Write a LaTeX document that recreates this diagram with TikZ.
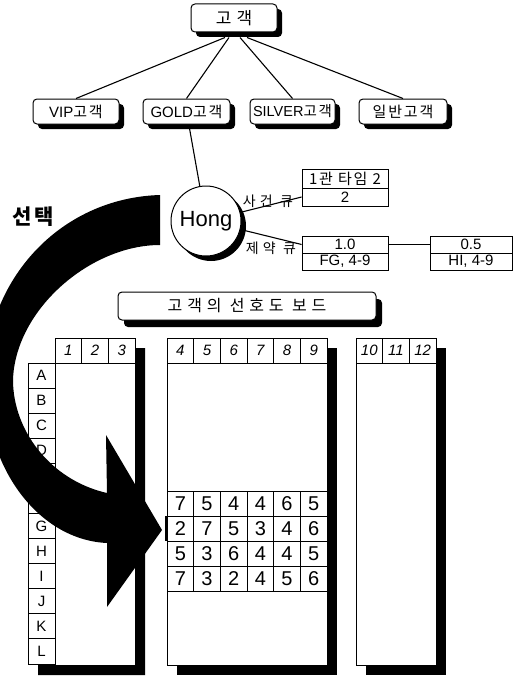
\documentclass[tikz,border=0pt]{standalone}
\usepackage{fontspec}
\setmainfont{Liberation Sans}
\newfontfamily\kr{Noto Sans CJK KR}[LetterSpace=12]
\newfontfamily\krw{Noto Sans CJK KR}[LetterSpace=30]
\usetikzlibrary{shadows}
\pgfdeclarelayer{background}
\pgfsetlayers{background,main}
\newcommand\myfs[1]{\fontsize{#1}{#1}\selectfont}
\begin{document}
\begin{tikzpicture}[x=1pt,y=-1pt,
  kbox/.style={draw, line width=1pt, rounded corners=4pt, fill=white, inner sep=0pt,
    drop shadow={shadow xshift=5pt, shadow yshift=-5pt, fill=black, opacity=1}},
  cell/.style={draw, line width=0.8pt, fill=white, inner sep=0pt},
  link/.style={line width=1.1pt},
  hcell/.style={cell, minimum width=26.67pt, minimum height=25pt, font=\myfs{15}\itshape},
  dcell/.style={cell, minimum width=26.67pt, minimum height=25pt, font=\myfs{20}},
  tshadow/.style={fill=black}]
\useasboundingbox (0,0) rectangle (525,677);
\clip (0,0) rectangle (525,677);
\begin{pgfonlayer}{background}
\fill[white] (0,0) rectangle (525,677);
\end{pgfonlayer}

% hierarchy
\node[kbox, minimum width=86pt, minimum height=28pt] (top) at (234,18) {\krw\myfs{17}고객};
\node[kbox, minimum width=86pt, minimum height=25pt] (vip) at (76,111.5) {\myfs{15}VIP{\kr\myfs{15}고객}};
\node[kbox, minimum width=87pt, minimum height=25pt] (gold) at (186.5,111.5) {\myfs{15}GOLD{\kr\myfs{15}고객}};
\node[kbox, minimum width=85pt, minimum height=25pt] (silver) at (292.5,111.5) {\myfs{14.5}SILVER{\kr\myfs{14.5}고객}};
\node[kbox, minimum width=88pt, minimum height=25pt] (gen) at (403,111.5) {\kr\myfs{15}일반고객};

\node[circle, draw, line width=1pt, fill=white, minimum size=70pt, inner sep=0pt,
  drop shadow={shadow xshift=5pt, shadow yshift=-5pt, fill=black, opacity=1}] (hong) at (206,221) {\myfs{22}Hong};

\node[cell, minimum width=86pt, minimum height=19pt] (e1) at (345,178.5) {\kr\myfs{15}1관 타임 2};
\node[cell, minimum width=86pt, minimum height=18pt] (e2) at (345,197) {\myfs{15}2};
\node[cell, minimum width=86pt, minimum height=17pt] (c1) at (345,244.5) {\myfs{15}1.0};
\node[cell, minimum width=86pt, minimum height=17pt] (c2) at (345,261.5) {\myfs{15}FG, 4-9};
\node[cell, minimum width=82pt, minimum height=17pt] (k1) at (471,244.5) {\myfs{15}0.5};
\node[cell, minimum width=82pt, minimum height=17pt] (k2) at (471,261.5) {\myfs{15}HI, 4-9};

\node (qe) at (268,201) {\krw\myfs{14}사건 큐};
\node (qc) at (271,248) {\krw\myfs{14}제약 큐};

\begin{pgfonlayer}{background}
\draw[link] ([xshift=-9pt,yshift=-5pt]top.south) -- (vip.north);
\draw[link] ([xshift=-5pt,yshift=-5pt]top.south) -- (gold.north);
\draw[link] ([xshift=6pt,yshift=-5pt]top.south) -- (silver.north);
\draw[link] ([xshift=13pt,yshift=-5pt]top.south) -- (gen.north);
\draw[link] (gold) -- (hong);
\draw[link] (hong) -- (e2.west);
\draw[link] (hong) -- (c1.west);
\draw[link] (c1.east) -- (k1.west);
\end{pgfonlayer}

% board title
\node[draw, line width=1pt, rounded corners=4pt, fill=white, inner sep=0pt,
  drop shadow={shadow xshift=6pt, shadow yshift=-7pt, fill=black, opacity=1},
  minimum width=258pt, minimum height=28pt] (board) at (247,306) {\krw\myfs{16}고객의 선호도 보드};

% left table
\fill[tshadow] (65,348) -- (145,348) -- (145,675) -- (38,675) -- (38,373) -- (65,373) -- cycle;
\draw[fill=white, line width=0.8pt] (55,363) rectangle (135,665);
\foreach \i in {1,2,3}
  \node[hcell] (lh\i) at ({55+26.67*(\i-0.5)},350.5) {\i};
\foreach \l [count=\i from 0] in {A,...,L}
  \node[cell, minimum width=27pt, minimum height=25.08pt, font=\myfs{15}] (rl\l) at (41.5,{363+25.08*(\i+0.5)}) {\l};

% middle table
\fill[tshadow] (177,348) rectangle (337,675);
\draw[fill=white, line width=0.8pt] (167,363) rectangle (327,665);
\foreach \i [count=\c from 0] in {4,...,9}
  \node[hcell] (mh\i) at ({167+26.67*(\c+0.5)},350.5) {\i};
\foreach \row [count=\r from 0] in {{7,5,4,4,6,5},{2,7,5,3,4,6},{5,3,6,4,4,5},{7,3,2,4,5,6}}
  \foreach \v [count=\c from 0] in \row
    \node[dcell] (v-\r-\c) at ({167+26.67*(\c+0.5)},{491+25*(\r+0.5)}) {\v};
\draw[line width=3pt] (v-1-0.north west) -- (v-1-0.south west);

% right table
\fill[tshadow] (366,348) rectangle (446,675);
\draw[fill=white, line width=0.8pt] (356,363) rectangle (436,665);
\foreach \i [count=\c from 0] in {10,11,12}
  \node[hcell] (rh\i) at ({356+26.67*(\c+0.5)},350.5) {\i};

% big arrow
\fill[black] (160,195) .. controls (60,198) and (-15,280) .. (-15,380)
  .. controls (-15,470) and (40,540) .. (107,543)
  -- (107,607) -- (162,530) -- (106,435) -- (107,493)
  .. controls (50,480) and (13,430) .. (13,380)
  .. controls (15,310) and (90,245) .. (160,245) -- cycle;

\node (sel) at (33,217) {\kr\bfseries\myfs{21}선택};
\end{tikzpicture}
\end{document}
